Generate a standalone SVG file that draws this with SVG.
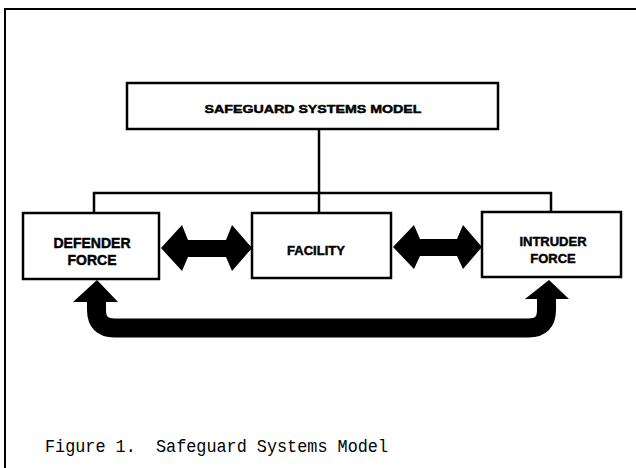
<svg xmlns="http://www.w3.org/2000/svg" width="636" height="468" viewBox="0 0 636 468">
<style>
.box{fill:#fff;stroke:#000;stroke-width:2.5}
.lbl{font-family:"Liberation Sans",Arial,sans-serif;font-weight:bold;fill:#000;stroke:#000;stroke-width:0.45;text-anchor:middle}
.ln{stroke:#000;stroke-width:2.5;fill:none}
.cap{font-family:"Liberation Mono","Courier New",monospace;fill:#000;white-space:pre}
</style>
<rect width="636" height="468" fill="#fff"/>
<g id="frame">
<line x1="4" y1="9" x2="636" y2="9" stroke="#000" stroke-width="2"/>
<line x1="5" y1="8" x2="5" y2="468" stroke="#000" stroke-width="2"/>
</g>
<g id="connectors">
<path class="ln" d="M319,129 V213 M94,213 V193 H551 V212"/>
<path fill="#000" d="M161,248 L182,225 L188,240 L226,240 L232,225 L252,248 L232,271 L226,257 L188,257 L182,271 Z"/>
<path fill="#000" d="M393,247 L414,225 L420,239 L457,239 L463,225 L482,247 L463,269 L457,256 L420,256 L414,269 Z"/>
<path d="M96.5,300 V310 Q96.5,328 114.5,328 H528.5 Q546.5,328 546.5,310 V298" stroke="#000" stroke-width="19" fill="none"/>
<path fill="#000" d="M97,280 L118,302 L73,302 Z"/>
<path fill="#000" d="M549,280 L569,299 L525,299 Z"/>
</g>
<g id="model">
<rect class="box" x="127" y="83" width="371" height="46"/>
<text class="lbl" x="313" y="113" font-size="11" textLength="217" lengthAdjust="spacingAndGlyphs">SAFEGUARD SYSTEMS MODEL</text>
</g>
<g id="defender">
<rect class="box" x="23" y="213" width="136" height="66"/>
<text class="lbl" x="92" y="248" font-size="14">DEFENDER</text>
<text class="lbl" x="92" y="265" font-size="14">FORCE</text>
</g>
<g id="facility">
<rect class="box" x="252" y="213" width="139" height="65"/>
<text class="lbl" x="316" y="255" font-size="13">FACILITY</text>
</g>
<g id="intruder">
<rect class="box" x="482" y="212" width="139" height="65"/>
<text class="lbl" x="553" y="246" font-size="13">INTRUDER</text>
<text class="lbl" x="553" y="263" font-size="13">FORCE</text>
</g>
<text class="cap" x="45" y="452" font-size="19" textLength="343" lengthAdjust="spacingAndGlyphs" xml:space="preserve">Figure 1.  Safeguard Systems Model</text>
</svg>
